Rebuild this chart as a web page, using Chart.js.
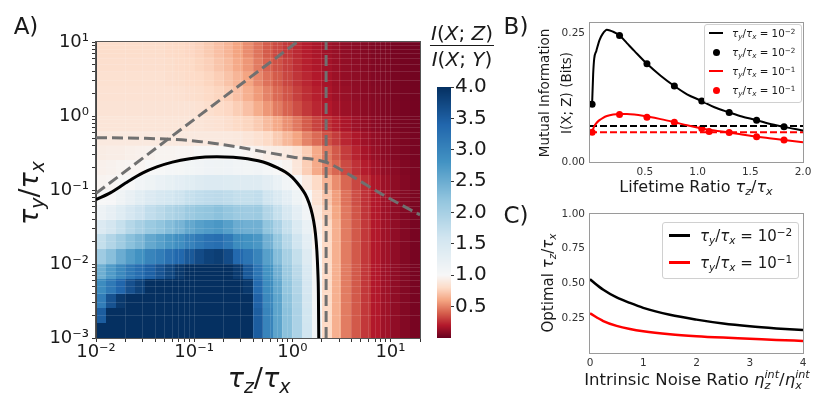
<!DOCTYPE html>
<html>
<head>
<meta charset="utf-8">
<title>Mutual information ratio</title>
<script src="https://cdn.jsdelivr.net/npm/chart.js@4.4.1/dist/chart.umd.min.js"></script>
<style>
  body { margin: 0; width: 830px; height: 406px; position: relative; overflow: hidden; background: #fff;
         font-family: 'DejaVu Sans', sans-serif; color: #1a1a1a; }
  canvas { position: absolute; }
  .lbl { position: absolute; white-space: nowrap; line-height: 1; transform: translate(-50%, -50%); }
  .rot { transform: translate(-50%, -50%) rotate(-90deg); }
  .m { font-style: italic; }
  sub, sup { font-size: 0.7em; line-height: 0; position: relative; vertical-align: baseline; }
  sub { top: 0.3em; }
  sup { top: -0.45em; }
  .box { position: absolute; border: 1px solid #d0d0d0; border-radius: 3px; background: rgba(255,255,255,0.85); }
  .row { position: absolute; white-space: nowrap; line-height: 1; transform: translateY(-50%); }
  .sw { position: absolute; }
</style>
</head>
<body>
<canvas id="heat" width="430" height="406" style="left:0;top:0"></canvas>
<canvas id="cbar" width="90" height="406" style="left:430px;top:0"></canvas>
<canvas id="lifetime" width="310" height="200" style="left:520px;top:0"></canvas>
<canvas id="optimal" width="310" height="206" style="left:520px;top:200px"></canvas>

<div class="lbl" style="left:26px;top:26px;font-size:23px">A)</div>
<div class="lbl" style="left:516px;top:26px;font-size:23px">B)</div>
<div class="lbl" style="left:516px;top:215px;font-size:23px">C)</div>

<div class="lbl" style="left:259px;top:377px;font-size:27px"><span class="m">τ</span><sub class="m">z</sub>/<span class="m">τ</span><sub class="m">x</sub></div>
<div class="lbl rot" style="left:28px;top:193px;font-size:27px"><span class="m">τ</span><sub class="m">y</sub>/<span class="m">τ</span><sub class="m">x</sub></div>

<div class="lbl" style="left:462px;top:46px;font-size:20px;text-align:center">
  <div style="padding:0 1px 2px"><span class="m">I</span>(<span class="m">X</span>; <span class="m">Z</span>)</div>
  <div style="border-top:1.5px solid #1a1a1a;padding-top:3px"><span class="m">I</span>(<span class="m">X</span>; <span class="m">Y</span>)</div>
</div>

<div class="lbl rot" style="left:545px;top:93px;font-size:13.5px">Mutual Information</div>
<div class="lbl rot" style="left:567px;top:93px;font-size:13.5px">I(X; Z) (Bits)</div>
<div class="lbl" style="left:696px;top:187px;font-size:16px">Lifetime Ratio <span class="m">τ</span><sub class="m">z</sub>/<span class="m">τ</span><sub class="m">x</sub></div>

<div class="lbl rot" style="left:548px;top:283px;font-size:15px">Optimal <span class="m">τ</span><sub class="m">z</sub>/<span class="m">τ</span><sub class="m">x</sub></div>
<div class="lbl" style="left:697px;top:381px;font-size:16.5px">Intrinsic Noise Ratio <span class="m">η</span><span style="display:inline-block;vertical-align:-0.32em;font-size:0.68em;line-height:0.95;font-style:italic">int<br>z</span>/<span class="m">η</span><span style="display:inline-block;vertical-align:-0.32em;font-size:0.68em;line-height:0.95;font-style:italic">int<br>x</span></div>

<div class="box" style="left:704px;top:24px;width:96px;height:77px"></div>
<div class="sw" style="left:709px;top:32px;width:14px;height:2px;background:#000"></div>
<div class="sw" style="left:712.5px;top:48.5px;width:7px;height:7px;border-radius:50%;background:#000"></div>
<div class="sw" style="left:709px;top:70px;width:14px;height:2px;background:#ff0000"></div>
<div class="sw" style="left:712.5px;top:86.5px;width:7px;height:7px;border-radius:50%;background:#ff0000"></div>
<div class="row" style="left:732px;top:33px;font-size:10.3px"><span class="m">τ</span><sub class="m">y</sub>/<span class="m">τ</span><sub class="m">x</sub> = 10<sup>−2</sup></div>
<div class="row" style="left:732px;top:52px;font-size:10.3px"><span class="m">τ</span><sub class="m">y</sub>/<span class="m">τ</span><sub class="m">x</sub> = 10<sup>−2</sup></div>
<div class="row" style="left:732px;top:71px;font-size:10.3px"><span class="m">τ</span><sub class="m">y</sub>/<span class="m">τ</span><sub class="m">x</sub> = 10<sup>−1</sup></div>
<div class="row" style="left:732px;top:90px;font-size:10.3px"><span class="m">τ</span><sub class="m">y</sub>/<span class="m">τ</span><sub class="m">x</sub> = 10<sup>−1</sup></div>

<div class="box" style="left:662px;top:222px;width:135px;height:55px"></div>
<div class="sw" style="left:669px;top:234px;width:21px;height:2.5px;background:#000"></div>
<div class="sw" style="left:669px;top:261px;width:21px;height:2.5px;background:#ff0000"></div>
<div class="row" style="left:700px;top:236px;font-size:15px"><span class="m">τ</span><sub class="m">y</sub>/<span class="m">τ</span><sub class="m">x</sub> = 10<sup>−2</sup></div>
<div class="row" style="left:700px;top:263px;font-size:15px"><span class="m">τ</span><sub class="m">y</sub>/<span class="m">τ</span><sub class="m">x</sub> = 10<sup>−1</sup></div>

<script>
// ---- panel A: ratio I(X;Z)/I(X;Y) on a tau_z x tau_y grid ----
const tauZ = [0.0112, 0.0141, 0.0178, 0.0224, 0.0282, 0.0355, 0.0447, 0.0562, 0.0708, 0.0891,
              0.112, 0.141, 0.178, 0.224, 0.282, 0.355, 0.447, 0.562, 0.708, 0.891,
              1.12, 1.41, 1.78, 2.24, 2.82, 3.55, 4.47, 5.62, 7.08, 8.91, 11.2, 14.1, 17.8];
const tauY = [7.94, 5.01, 3.16, 2.0, 1.26, 0.794, 0.501, 0.316, 0.2, 0.126,
              0.0794, 0.0501, 0.0316, 0.02, 0.0126, 0.00794, 0.00501, 0.00316, 0.002, 0.00126];
// one row per tauY value (top to bottom), one entry per tauZ value
const ratio = [
  [0.82,0.82,0.82,0.82,0.82,0.82,0.82,0.81,0.8,0.79,0.77,0.74,0.7,0.66,0.6,0.53,0.46,0.39,0.34,0.29,0.25,0.21,0.18,0.15,0.13,0.11,0.095,0.08,0.065,0.055,0.045,0.035,0.03],
  [0.83,0.83,0.83,0.83,0.83,0.83,0.83,0.82,0.81,0.8,0.78,0.76,0.72,0.68,0.62,0.56,0.48,0.41,0.36,0.31,0.26,0.22,0.19,0.16,0.135,0.115,0.1,0.085,0.07,0.058,0.047,0.037,0.03],
  [0.84,0.84,0.84,0.84,0.84,0.84,0.84,0.83,0.82,0.81,0.8,0.78,0.75,0.71,0.66,0.6,0.52,0.45,0.39,0.33,0.28,0.24,0.2,0.17,0.14,0.12,0.105,0.09,0.075,0.06,0.05,0.04,0.032],
  [0.85,0.85,0.85,0.85,0.85,0.85,0.85,0.85,0.84,0.83,0.82,0.8,0.78,0.75,0.7,0.64,0.57,0.5,0.43,0.37,0.31,0.26,0.22,0.18,0.15,0.13,0.11,0.095,0.08,0.065,0.053,0.042,0.034],
  [0.86,0.86,0.86,0.86,0.86,0.86,0.86,0.86,0.86,0.86,0.85,0.83,0.81,0.79,0.75,0.7,0.63,0.56,0.48,0.41,0.35,0.29,0.24,0.2,0.165,0.14,0.12,0.1,0.085,0.07,0.056,0.045,0.036],
  [0.87,0.87,0.87,0.87,0.87,0.87,0.87,0.87,0.87,0.87,0.87,0.86,0.85,0.83,0.8,0.78,0.74,0.68,0.62,0.54,0.47,0.39,0.32,0.27,0.22,0.18,0.145,0.12,0.095,0.078,0.062,0.049,0.038],
  [0.9,0.9,0.9,0.9,0.9,0.9,0.9,0.9,0.9,0.9,0.9,0.9,0.9,0.9,0.89,0.87,0.84,0.8,0.74,0.67,0.6,0.5,0.43,0.36,0.3,0.24,0.19,0.15,0.12,0.095,0.075,0.058,0.045],
  [0.92,0.93,0.93,0.94,0.95,0.96,0.97,0.97,0.98,0.98,0.99,0.99,0.99,0.99,0.99,0.98,0.96,0.93,0.92,0.9,0.85,0.75,0.62,0.48,0.38,0.3,0.23,0.17,0.13,0.1,0.078,0.06,0.045],
  [0.95,0.96,0.97,0.98,0.98,1.0,1.01,1.04,1.05,1.08,1.1,1.12,1.13,1.12,1.09,1.08,1.1,1.04,1.0,0.97,0.88,0.75,0.62,0.5,0.42,0.34,0.27,0.21,0.16,0.12,0.095,0.07,0.05],
  [0.97,0.98,0.99,1.0,1.09,1.15,1.2,1.25,1.3,1.35,1.39,1.42,1.43,1.41,1.4,1.4,1.4,1.32,1.2,1.1,1.0,0.9,0.8,0.66,0.53,0.42,0.33,0.26,0.19,0.14,0.105,0.078,0.052],
  [1.0,1.02,1.13,1.22,1.33,1.42,1.5,1.55,1.62,1.7,1.75,1.78,1.8,1.77,1.72,1.72,1.75,1.6,1.45,1.3,1.15,1.0,0.85,0.72,0.58,0.45,0.35,0.27,0.2,0.15,0.11,0.08,0.055],
  [1.16,1.26,1.38,1.52,1.63,1.75,1.83,1.92,1.99,2.1,2.17,2.2,2.25,2.18,2.1,2.08,2.1,1.9,1.7,1.5,1.3,1.1,0.9,0.76,0.61,0.47,0.37,0.28,0.2,0.15,0.11,0.077,0.05],
  [1.42,1.56,1.7,1.87,1.99,2.11,2.2,2.3,2.4,2.55,2.65,2.7,2.75,2.65,2.5,2.45,2.45,2.2,1.95,1.7,1.45,1.2,0.95,0.8,0.64,0.48,0.38,0.29,0.2,0.15,0.11,0.075,0.045],
  [1.72,1.9,2.07,2.25,2.37,2.55,2.65,2.75,2.86,3.02,3.15,3.25,3.3,3.15,2.9,2.82,2.75,2.45,2.15,1.85,1.6,1.3,0.98,0.8,0.64,0.48,0.38,0.29,0.2,0.15,0.11,0.075,0.045],
  [2.08,2.27,2.5,2.68,2.82,3.0,3.1,3.25,3.38,3.55,3.7,3.8,3.85,3.7,3.36,3.2,3.0,2.65,2.3,2.0,1.72,1.4,1.02,0.8,0.64,0.48,0.38,0.29,0.2,0.15,0.11,0.075,0.045],
  [2.47,2.7,2.93,3.15,3.3,3.46,3.6,3.75,3.9,4.2,4.6,4.6,4.6,4.6,3.88,3.55,3.2,2.8,2.45,2.1,1.82,1.47,1.05,0.8,0.64,0.48,0.38,0.29,0.2,0.15,0.11,0.075,0.045],
  [2.9,3.15,3.4,3.64,3.8,4.0,4.3,4.6,4.6,4.6,4.6,4.6,4.6,4.6,4.6,3.9,3.35,2.9,2.55,2.18,1.9,1.52,1.07,0.8,0.64,0.48,0.38,0.29,0.2,0.15,0.11,0.075,0.045],
  [3.1,3.62,3.9,4.3,4.6,4.6,4.6,4.6,4.6,4.6,4.6,4.6,4.6,4.6,4.6,4.3,3.45,2.95,2.6,2.22,1.93,1.56,1.08,0.8,0.64,0.48,0.38,0.29,0.2,0.15,0.11,0.075,0.045],
  [3.5,4.2,4.6,4.6,4.6,4.6,4.6,4.6,4.6,4.6,4.6,4.6,4.6,4.6,4.6,4.4,3.5,3.0,2.6,2.25,1.95,1.58,1.09,0.8,0.64,0.48,0.38,0.29,0.2,0.15,0.11,0.075,0.045],
  [4.6,4.6,4.6,4.6,4.6,4.6,4.6,4.6,4.6,4.6,4.6,4.6,4.6,4.6,4.6,4.2,3.5,3.0,2.6,2.25,1.95,1.6,1.1,0.8,0.64,0.48,0.38,0.29,0.2,0.15,0.11,0.075,0.045]
];
// ratio = 1 contour
const contourTauZ = [0.01, 0.0141, 0.02, 0.03, 0.0417, 0.06, 0.09, 0.13, 0.17, 0.25, 0.35, 0.45, 0.55,
                     0.7, 0.85, 1.0, 1.12, 1.26, 1.41, 1.55, 1.65, 1.72, 1.78, 1.82, 1.845, 1.86];
const contourTauY = [0.074, 0.092, 0.124, 0.17, 0.205, 0.238, 0.265, 0.279, 0.282, 0.277, 0.265, 0.248, 0.23,
                     0.2, 0.175, 0.148, 0.125, 0.102, 0.079, 0.055, 0.038, 0.026, 0.015, 0.008, 0.004, 0.001];
// grey dashed guides
const diagTauZ = [0.01, 1.12];
const diagTauY = [0.09, 10];
const vertTauZ = 2.21;
const bendTauZ = [0.01, 0.03, 0.1, 0.25, 0.5, 1.0, 2.21, 4, 7.9, 20];
const bendTauY = [0.51, 0.50, 0.46, 0.39, 0.33, 0.28, 0.237, 0.155, 0.09, 0.046];
const cbarTicks = [0.5, 1.0, 1.5, 2.0, 2.5, 3.0, 3.5, 4.0];

// ---- panel B: mutual information vs lifetime ratio ----
const lifetime = [0, 0.01, 0.02, 0.04, 0.07, 0.1, 0.14, 0.2, 0.26, 0.33, 0.4, 0.52, 0.65, 0.78, 0.9,
                  1.04, 1.16, 1.3, 1.42, 1.56, 1.68, 1.82, 2.0];
const miBlack = [0.112, 0.17, 0.2, 0.215, 0.236, 0.248, 0.256, 0.252, 0.245, 0.23, 0.215, 0.19, 0.167, 0.147, 0.131,
                 0.118, 0.106, 0.096, 0.088, 0.081, 0.074, 0.068, 0.061];
const miRed = [0.0575, 0.064, 0.069, 0.075, 0.081, 0.085, 0.089, 0.092, 0.093, 0.093, 0.092, 0.088, 0.083, 0.077, 0.071,
               0.065, 0.061, 0.057, 0.053, 0.049, 0.046, 0.0426, 0.038];
const sampleLifetime = [0, 0.26, 0.52, 0.78, 1.04, 1.30, 1.56, 1.82];
const sampleBlack = [0.112, 0.245, 0.19, 0.147, 0.118, 0.096, 0.081, 0.068];
const redSampleLifetime = [0, 0.26, 0.52, 0.78, 1.04, 1.11, 1.30, 1.56, 1.82];
const sampleRed = [0.0575, 0.092, 0.0866, 0.077, 0.065, 0.059, 0.057, 0.049, 0.0426];
const baseBlack = 0.0698;
const baseRed = 0.0575;
const lifetimeTicks = [0.5, 1.0, 1.5, 2.0];
const miTicks = [0, 0.25];

// ---- panel C: optimal lifetime vs intrinsic noise ratio ----
const noiseRatio = [0, 0.25, 0.5, 0.75, 1, 1.5, 2, 2.5, 3, 3.5, 4];
const optBlack = [0.53, 0.455, 0.40, 0.36, 0.325, 0.275, 0.24, 0.212, 0.192, 0.177, 0.165];
const optRed = [0.285, 0.23, 0.195, 0.172, 0.156, 0.135, 0.121, 0.111, 0.103, 0.094, 0.087];
const noiseTicks = [0, 1, 2, 3, 4];
const optTicks = [0.25, 0.5, 0.75, 1.0];

Chart.defaults.font.family = "'DejaVu Sans', sans-serif";
Chart.defaults.color = '#1a1a1a';

const zip = (xs, ys) => xs.map((x, i) => ({ x: x, y: ys[i] }));
const common = {
  animation: false, responsive: false, devicePixelRatio: 1, events: [],
  plugins: { legend: { display: false }, tooltip: { enabled: false } }
};

// RdBu colour stops, centred on a ratio of 1
const RDBU = [[103,0,31],[178,24,43],[214,96,77],[244,165,130],[253,219,199],[247,247,247],
              [209,229,240],[146,197,222],[67,147,195],[33,102,172],[5,48,97]];
function rdbu(v) {
  const t = v < 1 ? 0.5 * Math.max(v, 0) : Math.min(1, 0.5 + (v - 1) / 6);
  const s = t * 10, k = Math.min(9, Math.floor(s)), f = s - k;
  const a = RDBU[k], b = RDBU[k + 1];
  return 'rgb(' + a.map((c, n) => Math.round(c + (b[n] - c) * f)).join(',') + ')';
}
// cell borders halfway (in log space) between neighbouring grid values
function edges(arr) {
  const out = [arr[0] * Math.sqrt(arr[0] / arr[1])];
  for (let i = 1; i < arr.length; i++) out.push(Math.sqrt(arr[i - 1] * arr[i]));
  const n = arr.length - 1;
  out.push(arr[n] * Math.sqrt(arr[n] / arr[n - 1]));
  return out;
}

const heatCells = {
  id: 'heatCells',
  beforeDraw(chart) {
    const { ctx, chartArea: a, scales: { x, y } } = chart;
    const xe = edges(tauZ), ye = edges(tauY);
    ctx.save();
    ctx.beginPath();
    ctx.rect(a.left, a.top, a.width, a.height);
    ctx.clip();
    ratio.forEach((row, j) => {
      const y0 = Math.round(y.getPixelForValue(ye[j])), y1 = Math.round(y.getPixelForValue(ye[j + 1]));
      row.forEach((v, i) => {
        const x0 = Math.round(x.getPixelForValue(xe[i])), x1 = Math.round(x.getPixelForValue(xe[i + 1]));
        ctx.fillStyle = rdbu(v);
        ctx.fillRect(x0, Math.min(y0, y1), x1 - x0, Math.abs(y1 - y0));
      });
    });
    ctx.restore();
  }
};

const colorbarFill = {
  id: 'colorbarFill',
  beforeDraw(chart) {
    const { ctx, chartArea: a, scales: { y } } = chart;
    ctx.save();
    for (let py = Math.floor(a.top); py < a.bottom; py++) {
      ctx.fillStyle = rdbu(y.getValueForPixel(py + 0.5));
      ctx.fillRect(a.left, py, a.width, 1);
    }
    ctx.restore();
  }
};

function frame(color) {
  return {
    id: 'frame',
    afterDatasetsDraw(chart) {
      const { ctx, chartArea: a } = chart;
      ctx.save();
      ctx.strokeStyle = color;
      ctx.lineWidth = 1;
      ctx.strokeRect(Math.round(a.left) - 0.5, Math.round(a.top) - 0.5, Math.round(a.width) + 1, Math.round(a.height) + 1);
      ctx.restore();
    }
  };
}

const logTicks = (lo, hi, max) => {
  const out = [];
  for (let e = lo; e <= hi; e++) {
    for (let m = 1; m < 10; m++) {
      const v = +(m * Math.pow(10, e)).toPrecision(3);
      if (v <= max) out.push({ value: v });
    }
  }
  return out;
};
const SUP = { '-': '⁻', '0': '⁰', '1': '¹', '2': '²', '3': '³' };
function powLabel(v) {
  const e = Math.log10(v);
  if (Math.abs(e - Math.round(e)) > 1e-6) return '';
  return '10' + String(Math.round(e)).split('').map(c => SUP[c]).join('');
}

const dashed = { showLine: true, borderColor: '#707070', borderWidth: 3, borderDash: [11, 5], pointRadius: 0 };

new Chart(document.getElementById('heat'), {
  type: 'scatter',
  data: {
    datasets: [
      { data: zip(contourTauZ, contourTauY), showLine: true, borderColor: '#000', borderWidth: 3,
        pointRadius: 0, cubicInterpolationMode: 'monotone' },
      Object.assign({ data: zip(diagTauZ, diagTauY) }, dashed),
      Object.assign({ data: [{ x: vertTauZ, y: 0.001 }, { x: vertTauZ, y: 10 }] }, dashed),
      Object.assign({ data: zip(bendTauZ, bendTauY), cubicInterpolationMode: 'monotone' }, dashed)
    ]
  },
  options: Object.assign({}, common, {
    layout: { padding: { left: 0, top: 42, right: 10, bottom: 0 } },
    scales: {
      x: {
        type: 'logarithmic', min: 0.01, max: 20,
        afterFit: s => { s.height = 68; },
        afterBuildTicks: s => { s.ticks = logTicks(-2, 1, 20); },
        ticks: { autoSkip: false, maxRotation: 0, padding: 0, callback: powLabel, font: { size: 18 }, color: '#1a1a1a' },
        grid: { color: 'rgba(255,255,255,0.12)', tickColor: '#333', tickLength: 4 },
        border: { color: '#444' }
      },
      y: {
        type: 'logarithmic', min: 0.001, max: 10,
        afterFit: s => { s.width = 96; },
        afterBuildTicks: s => { s.ticks = logTicks(-3, 1, 10); },
        ticks: { autoSkip: false, padding: 3, callback: powLabel, font: { size: 18 }, color: '#1a1a1a' },
        grid: { color: 'rgba(255,255,255,0.12)', tickColor: '#333', tickLength: 4 },
        border: { color: '#444' }
      }
    }
  }),
  plugins: [heatCells, frame('#555')]
});

new Chart(document.getElementById('cbar'), {
  type: 'scatter',
  data: { datasets: [] },
  options: Object.assign({}, common, {
    layout: { padding: { left: 7, top: 87, right: 0, bottom: 68 } },
    scales: {
      x: { display: false, min: 0, max: 1 },
      y: {
        position: 'right', min: 0, max: 4,
        afterFit: s => { s.width = 69; },
        afterBuildTicks: s => { s.ticks = cbarTicks.map(v => ({ value: v })); },
        ticks: { callback: v => v.toFixed(1), font: { size: 20 }, color: '#1a1a1a', padding: 1 },
        grid: { drawOnChartArea: false, tickLength: 3, tickColor: '#333' },
        border: { display: false }
      }
    }
  }),
  plugins: [colorbarFill]
});

const smallTicks = { font: { size: 10.5 }, color: '#333', maxRotation: 0 };
const noGrid = { display: false, drawTicks: false, tickLength: 0 };

new Chart(document.getElementById('lifetime'), {
  type: 'scatter',
  data: {
    datasets: [
      { data: zip(lifetime, miBlack), showLine: true, borderColor: '#000', borderWidth: 2, pointRadius: 0, cubicInterpolationMode: 'monotone' },
      { data: zip(lifetime, miRed), showLine: true, borderColor: '#ff0000', borderWidth: 2, pointRadius: 0, cubicInterpolationMode: 'monotone' },
      { data: [{ x: -0.02, y: baseBlack }, { x: 2, y: baseBlack }], showLine: true, borderColor: '#000', borderWidth: 2, borderDash: [7, 3], pointRadius: 0 },
      { data: [{ x: -0.02, y: baseRed }, { x: 2, y: baseRed }], showLine: true, borderColor: '#ff0000', borderWidth: 2, borderDash: [7, 3], pointRadius: 0 },
      { data: zip(sampleLifetime, sampleBlack), pointRadius: 3.5, pointBackgroundColor: '#000', pointBorderWidth: 0 },
      { data: zip(redSampleLifetime, sampleRed), pointRadius: 3.5, pointBackgroundColor: '#ff0000', pointBorderWidth: 0 }
    ]
  },
  options: Object.assign({}, common, {
    layout: { padding: { left: 0, top: 23, right: 27, bottom: 0 } },
    scales: {
      x: {
        min: -0.02, max: 2.0,
        afterFit: s => { s.height = 38; },
        afterBuildTicks: s => { s.ticks = lifetimeTicks.map(v => ({ value: v })); },
        ticks: Object.assign({ padding: 4, callback: v => v.toFixed(1) }, smallTicks),
        grid: noGrid, border: { display: false }
      },
      y: {
        min: 0, max: 0.269,
        afterFit: s => { s.width = 70; },
        afterBuildTicks: s => { s.ticks = miTicks.map(v => ({ value: v })); },
        ticks: Object.assign({ padding: 5, callback: v => v.toFixed(2) }, smallTicks),
        grid: noGrid, border: { display: false }
      }
    }
  }),
  plugins: [frame('#9a9a9a')]
});

new Chart(document.getElementById('optimal'), {
  type: 'scatter',
  data: {
    datasets: [
      { data: zip(noiseRatio, optBlack), showLine: true, borderColor: '#000', borderWidth: 2.5, pointRadius: 0, cubicInterpolationMode: 'monotone' },
      { data: zip(noiseRatio, optRed), showLine: true, borderColor: '#ff0000', borderWidth: 2.5, pointRadius: 0, cubicInterpolationMode: 'monotone' }
    ]
  },
  options: Object.assign({}, common, {
    layout: { padding: { left: 0, top: 14, right: 27, bottom: 0 } },
    scales: {
      x: {
        min: 0, max: 4,
        afterFit: s => { s.height = 53; },
        afterBuildTicks: s => { s.ticks = noiseTicks.map(v => ({ value: v })); },
        ticks: Object.assign({ padding: 4, callback: v => String(v) }, smallTicks),
        grid: noGrid, border: { display: false }
      },
      y: {
        min: 0, max: 1,
        afterFit: s => { s.width = 70; },
        afterBuildTicks: s => { s.ticks = optTicks.map(v => ({ value: v })); },
        ticks: Object.assign({ padding: 5, callback: v => v.toFixed(2) }, smallTicks),
        grid: noGrid, border: { display: false }
      }
    }
  }),
  plugins: [frame('#9a9a9a')]
});
</script>
</body>
</html>
